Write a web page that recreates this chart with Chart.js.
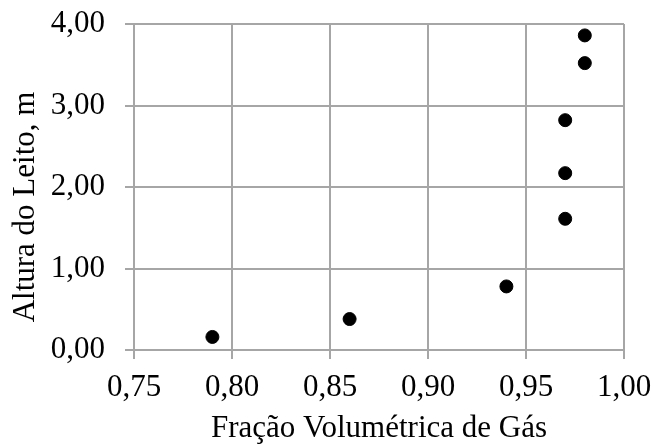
<!DOCTYPE html>
<html>
<head>
<meta charset="utf-8">
<script src="https://cdn.jsdelivr.net/npm/chart.js@4.4.1/dist/chart.umd.min.js"></script>
<style>
  html, body { margin: 0; padding: 0; background: #fff; }
  #wrap { width: 653px; height: 448px; }
</style>
</head>
<body>
<div id="wrap"><canvas id="chart" width="653" height="448"></canvas></div>
<script>
// data
var fracaoGas = [0.79, 0.86, 0.94, 0.97, 0.97, 0.97, 0.98, 0.98];
var alturaLeito = [0.16, 0.38, 0.78, 1.61, 2.17, 2.82, 3.52, 3.86];
var xTicks = [0.75, 0.80, 0.85, 0.90, 0.95, 1.00];
var yTicks = [0, 1, 2, 3, 4];
var xTitle = 'Fração Volumétrica de Gás';
var yTitle = 'Altura do Leito, m';

var serif = '"Liberation Serif", "Times New Roman", serif';
var gridColor = '#a6a6a6';
var fontSize = 31;

function fmt(v) {
  return Number(v).toFixed(2).replace('.', ',');
}

var points = fracaoGas.map(function (x, i) {
  return { x: x, y: alturaLeito[i] };
});

// y title sits a little below the middle of the plot, so draw it by hand
var yTitlePlugin = {
  id: 'yTitle',
  afterDraw: function (chart) {
    var ctx = chart.ctx;
    var area = chart.chartArea;
    ctx.save();
    ctx.translate(26, (area.top + area.bottom) / 2 + 20);
    ctx.rotate(-Math.PI / 2);
    ctx.font = fontSize + 'px ' + serif;
    ctx.fillStyle = '#000';
    ctx.textAlign = 'center';
    ctx.textBaseline = 'middle';
    ctx.fillText(yTitle, 0, 0);
    ctx.restore();
  }
};

new Chart(document.getElementById('chart'), {
  type: 'scatter',
  data: {
    datasets: [{
      data: points,
      backgroundColor: '#000',
      borderColor: '#000',
      pointRadius: 6.5,
      pointHoverRadius: 6.5
    }]
  },
  options: {
    responsive: false,
    animation: false,
    layout: { padding: { top: 24, right: 29, left: 0, bottom: 0 } },
    plugins: { legend: { display: false }, tooltip: { enabled: false } },
    scales: {
      x: {
        type: 'linear',
        min: xTicks[0],
        max: xTicks[xTicks.length - 1],
        afterBuildTicks: function (s) { s.ticks = xTicks.map(function (v) { return { value: v }; }); },
        afterFit: function (s) { s.height = 98; s.paddingLeft = 0; s.paddingRight = 0; },
        grid: { color: gridColor, lineWidth: 2, tickLength: 9, tickColor: gridColor },
        border: { color: gridColor, width: 2 },
        ticks: {
          color: '#000',
          font: { family: serif, size: fontSize },
          padding: 10,
          maxRotation: 0,
          callback: function (v) { return fmt(v); }
        },
        title: {
          display: true,
          text: xTitle,
          color: '#000',
          font: { family: serif, size: fontSize },
          padding: { top: 0, bottom: 1 }
        }
      },
      y: {
        type: 'linear',
        min: yTicks[0],
        max: yTicks[yTicks.length - 1],
        afterBuildTicks: function (s) { s.ticks = yTicks.map(function (v) { return { value: v }; }); },
        afterFit: function (s) { s.width = 134; s.paddingTop = 0; s.paddingBottom = 0; },
        grid: { color: gridColor, lineWidth: 2, tickLength: 9, tickColor: gridColor },
        border: { color: gridColor, width: 2 },
        ticks: {
          color: '#000',
          font: { family: serif, size: fontSize },
          padding: 20,
          callback: function (v) { return fmt(v); }
        }
      }
    }
  },
  plugins: [yTitlePlugin]
});
</script>
</body>
</html>
